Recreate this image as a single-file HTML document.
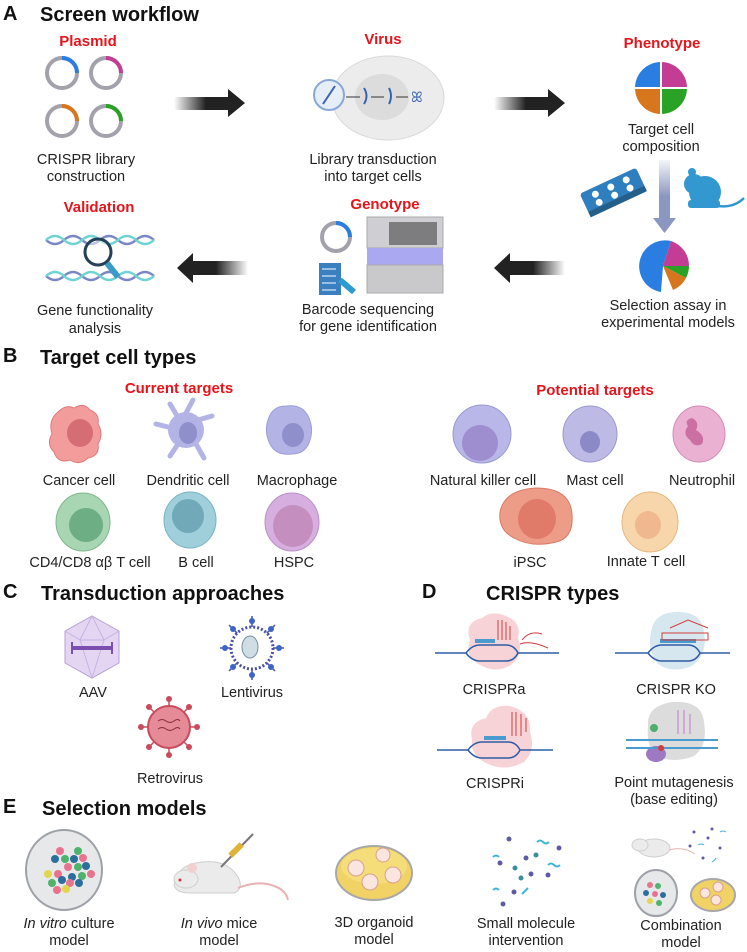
<!DOCTYPE html>
<html><head><meta charset="utf-8"><style>
html,body{margin:0;padding:0;background:#fff}
svg{display:block}
text{font-family:"Liberation Sans",sans-serif}
.h{font-weight:bold;font-size:20px;fill:#111}
.r{font-weight:bold;font-size:15px;fill:#e8141b;text-anchor:middle}
.t{font-size:14.5px;fill:#222;text-anchor:middle}
</style></head><body>
<svg width="747" height="952" viewBox="0 0 747 952" xmlns="http://www.w3.org/2000/svg">
<defs>
<linearGradient id="ar" x1="0" x2="1"><stop offset="0" stop-color="#222" stop-opacity="0"/><stop offset="0.45" stop-color="#222"/></linearGradient>
<linearGradient id="al" x1="1" x2="0"><stop offset="0" stop-color="#222" stop-opacity="0"/><stop offset="0.45" stop-color="#222"/></linearGradient>
<linearGradient id="ad" x1="0" y1="0" x2="0" y2="1"><stop offset="0" stop-color="#8a97c0" stop-opacity="0.1"/><stop offset="0.5" stop-color="#8a97c0"/></linearGradient>
</defs>
<!-- A -->
<text x="3" y="20" class="h">A</text><text x="40" y="21" class="h">Screen workflow</text>
<text x="88" y="46" class="r">Plasmid</text>
<g fill="none" stroke-width="4">
<circle cx="62" cy="73" r="15" stroke="#a3a1ab"/><path d="M62 58 A15 15 0 0 1 77 73" stroke="#2a7de1"/>
<circle cx="106" cy="73" r="15" stroke="#a3a1ab"/><path d="M106 58 A15 15 0 0 1 121 73" stroke="#c33d95"/>
<circle cx="62" cy="121" r="15" stroke="#a3a1ab"/><path d="M62 106 A15 15 0 0 1 77 121" stroke="#d8761d"/>
<circle cx="106" cy="121" r="15" stroke="#a3a1ab"/><path d="M106 106 A15 15 0 0 1 121 121" stroke="#2aa225"/>
</g>
<text x="86" y="164" class="t">CRISPR library</text><text x="86" y="181" class="t">construction</text>
<path d="M174 97 H228 V89 L245 103 L228 117 V110 H174Z" fill="url(#ar)"/>
<text x="383" y="44" class="r">Virus</text>
<ellipse cx="388" cy="98" rx="56" ry="42" fill="#ececec" stroke="#d9d9d9"/>
<ellipse cx="382" cy="97" rx="27" ry="23" fill="#dcdcdc"/>
<circle cx="329" cy="95" r="15" fill="#e6eef8" stroke="#8aa8d6" stroke-width="2"/>
<path d="M323 104 Q329 95 335 86 M364 104 q5 -8 0 -16 M389 104 q4 -8 0 -16" stroke="#3b64b0" stroke-width="2" fill="none"/>
<path d="M346 97 H360 M371 97 H384 M396 97 H408" stroke="#333"/>
<text x="411" y="102" font-size="14" fill="#3b64b0">ꕤ</text>
<text x="373" y="164" class="t">Library transduction</text><text x="373" y="181" class="t">into target cells</text>
<path d="M494 97 H548 V89 L565 103 L548 117 V110 H494Z" fill="url(#ar)"/>
<text x="662" y="48" class="r">Phenotype</text>
<g transform="translate(661,88)">
<path d="M0 0 V-26 A26 26 0 0 0 -26 0Z" fill="#2a7de1"/><path d="M0 0 V-26 A26 26 0 0 1 26 0Z" fill="#c33d95"/>
<path d="M0 0 H-26 A26 26 0 0 0 0 26Z" fill="#d8761d"/><path d="M0 0 H26 A26 26 0 0 1 0 26Z" fill="#2aa225"/>
<path d="M-26 0H26M0-26V26" stroke="#fff" stroke-width="2"/></g>
<text x="661" y="134" class="t">Target cell</text><text x="661" y="151" class="t">composition</text>
<path d="M659 160 H670 V218 H676 L664.5 233 L653 218 H659Z" fill="url(#ad)"/>
<g transform="rotate(-25 612 192)"><rect x="582" y="180" width="62" height="22" rx="3" fill="#2f7fbf"/><rect x="582" y="200" width="62" height="6" fill="#245f8a"/>
<g fill="#fff"><circle cx="596" cy="187" r="3.5"/><circle cx="613" cy="187" r="3.5"/><circle cx="630" cy="187" r="3.5"/><circle cx="596" cy="196" r="3.5"/><circle cx="613" cy="196" r="3.5"/><circle cx="630" cy="196" r="3.5"/></g></g>
<g fill="#3398d0"><ellipse cx="705" cy="192" rx="16" ry="16"/><ellipse cx="694" cy="184" rx="10" ry="10"/><circle cx="692" cy="172" r="4"/><rect x="688" y="200" width="32" height="8" rx="3"/></g>
<path d="M718 206 q16 2 26 -8" stroke="#3398d0" stroke-width="2.5" fill="none"/>
<g transform="translate(663,266)">
<path d="M0 0 L8 -25 A26 26 0 1 0 -2 26Z" fill="#2a7de1"/>
<path d="M0 0 L8 -25 A26 26 0 0 1 26 0Z" fill="#c33d95"/>
<path d="M0 0 H26 A26 26 0 0 1 23 12Z" fill="#2aa225"/>
<path d="M0 0 L23 12 A26 26 0 0 1 10 24Z" fill="#d8761d"/></g>
<text x="668" y="310" class="t">Selection assay in</text><text x="668" y="327" class="t">experimental models</text>
<path d="M565 261 H510 V253 L494 268 L510 283 V275 H565Z" fill="url(#al)"/>
<text x="385" y="209" class="r">Genotype</text>
<circle cx="336" cy="237" r="14" fill="none" stroke="#a3a1ab" stroke-width="4"/><path d="M336 223 A14 14 0 0 1 350 237" stroke="#2a7de1" stroke-width="4" fill="none"/>
<rect x="367" y="217" width="76" height="31" fill="#cfcfd3" stroke="#aaa"/><rect x="389" y="222" width="48" height="23" fill="#7d7d80"/>
<rect x="367" y="248" width="76" height="17" fill="#a9a8f0"/><rect x="367" y="265" width="76" height="28" fill="#c9c9cc" stroke="#aaa"/>
<rect x="319" y="263" width="22" height="32" fill="#3a7fc0"/><g stroke="#fff"><path d="M322 269h14M322 276h14M322 283h14M322 290h14"/></g>
<path d="M340 280 l14 12" stroke="#2d9bd0" stroke-width="6"/>
<text x="368" y="314" class="t">Barcode sequencing</text><text x="368" y="331" class="t">for gene identification</text>
<path d="M248 261 H193 V253 L177 268 L193 283 V275 H248Z" fill="url(#al)"/>
<text x="99" y="212" class="r">Validation</text>
<g fill="none" stroke-width="2.5">
<path d="M46 240 q9 8 18 0 t18 0 t18 0 t18 0 t18 0 t18 0" stroke="#7a86c6"/><path d="M46 240 q9 -8 18 0 t18 0 t18 0 t18 0 t18 0 t18 0" stroke="#6fd3d1"/>
<path d="M46 276 q9 8 18 0 t18 0 t18 0 t18 0 t18 0 t18 0" stroke="#7a86c6"/><path d="M46 276 q9 -8 18 0 t18 0 t18 0 t18 0 t18 0 t18 0" stroke="#6fd3d1"/>
<circle cx="98" cy="252" r="13" stroke="#23425a" stroke-width="3" fill="#fff" fill-opacity="0.5"/>
<path d="M107 263 l11 14" stroke="#3a9bc7" stroke-width="6"/></g>
<text x="95" y="315" class="t">Gene functionality</text><text x="95" y="333" class="t">analysis</text>

<!-- B -->
<text x="3" y="362" class="h">B</text><text x="40" y="364" class="h">Target cell types</text>
<text x="179" y="393" class="r">Current targets</text>
<text x="595" y="395" class="r">Potential targets</text>
<path d="M58 412 q8 -8 16 -4 q10 -6 16 2 q10 4 8 14 q6 10 0 20 q2 12 -10 14 q-8 8 -18 2 q-12 4 -16 -8 q-8 -8 -2 -18 q-4 -14 6 -22z" fill="#f29c9c" stroke="#e07a7a"/>
<ellipse cx="80" cy="433" rx="13" ry="14" fill="#d56d75"/>
<g stroke="#b3b3e6" stroke-width="5" stroke-linecap="round" fill="none"><path d="M186 413 L193 400 M198 420 L212 416 M196 444 L204 458 M178 444 L170 456 M172 428 L156 424 M176 414 L170 404"/></g>
<circle cx="186" cy="430" r="18" fill="#b3b3e6"/><ellipse cx="188" cy="433" rx="9" ry="11" fill="#8f8fcc"/>
<path d="M268 420 q4 -14 18 -14 q16 -2 22 10 q6 12 2 24 q-4 14 -18 14 q-16 2 -22 -10 q-6 -12 -2 -24z" fill="#b3b3e6" stroke="#9e9ed8"/>
<ellipse cx="293" cy="435" rx="11" ry="12" fill="#8f8fcc"/>
<text x="79" y="485" class="t">Cancer cell</text><text x="188" y="485" class="t">Dendritic cell</text><text x="297" y="485" class="t">Macrophage</text>
<ellipse cx="83" cy="522" rx="27" ry="29" fill="#a8d5b2" stroke="#7fb88c"/><ellipse cx="86" cy="525" rx="17" ry="17" fill="#6eae84"/>
<ellipse cx="190" cy="520" rx="26" ry="28" fill="#9fcfdb" stroke="#7ab3c4"/><ellipse cx="188" cy="516" rx="16" ry="17" fill="#72a9b8"/>
<ellipse cx="292" cy="522" rx="27" ry="29" fill="#d7aee0" stroke="#b98fc6"/><ellipse cx="293" cy="526" rx="20" ry="21" fill="#c48fbf"/>
<text x="90" y="567" class="t">CD4/CD8 αβ T cell</text><text x="196" y="567" class="t">B cell</text><text x="294" y="567" class="t">HSPC</text>
<ellipse cx="482" cy="434" rx="29" ry="29" fill="#b9b7e8" stroke="#9a98d3"/><ellipse cx="480" cy="443" rx="18" ry="18" fill="#9e8dcf"/>
<ellipse cx="590" cy="434" rx="27" ry="28" fill="#bdbbe6" stroke="#9a98d3"/><ellipse cx="590" cy="442" rx="10" ry="11" fill="#8b89c6"/>
<ellipse cx="699" cy="434" rx="26" ry="28" fill="#eab1d2" stroke="#d18db6"/><path d="M692 418 q8 4 4 12 q10 6 6 14 q-8 4 -12 -4 q-8 -6 -2 -14 q-4 -6 4 -8z" fill="#cc6fa2"/>
<text x="483" y="485" class="t">Natural killer cell</text><text x="595" y="485" class="t">Mast cell</text><text x="702" y="485" class="t">Neutrophil</text>
<path d="M500 512 q4 -22 36 -24 q34 0 36 26 q2 24 -16 28 q-24 6 -42 -4 q-16 -8 -14 -26z" fill="#ec9c87" stroke="#d87a66"/>
<ellipse cx="537" cy="519" rx="19" ry="20" fill="#e07b69"/>
<ellipse cx="650" cy="522" rx="28" ry="30" fill="#f8d6ac" stroke="#e7b57e"/><ellipse cx="648" cy="525" rx="13" ry="14" fill="#efb88e"/>
<text x="530" y="567" class="t">iPSC</text><text x="646" y="566" class="t">Innate T cell</text>

<!-- C -->
<text x="3" y="598" class="h">C</text><text x="41" y="600" class="h">Transduction approaches</text>
<polygon points="92,616 119,631 119,663 92,678 65,663 65,631" fill="#e4d6f2" stroke="#b79fd6"/>
<path d="M92 616 L80 640 L104 640Z M65 631 L80 640 L92 678 L104 640 L119 631" fill="none" stroke="#c6b2e2"/>
<path d="M72 648 H112" stroke="#7b4fb0" stroke-width="4"/><path d="M72 642V654M112 642V654" stroke="#7b4fb0" stroke-width="2"/>
<text x="93" y="697" class="t">AAV</text>
<g stroke="#4a4fa8" stroke-width="1.5"><path d="M252 616V680M220 648H284M229 625L275 671M275 625L229 671"/></g>
<circle cx="252" cy="648" r="21" fill="#fff" stroke="#4a4fa8" stroke-width="3" stroke-dasharray="2 2"/>
<ellipse cx="250" cy="647" rx="8" ry="11" fill="#cfdde5" stroke="#7a8f9c"/>
<g fill="#3b66c4"><circle cx="252" cy="621" r="3"/><circle cx="252" cy="675" r="3"/><circle cx="225" cy="648" r="3"/><circle cx="279" cy="648" r="3"/><circle cx="233" cy="629" r="3"/><circle cx="271" cy="667" r="3"/><circle cx="271" cy="629" r="3"/><circle cx="233" cy="667" r="3"/></g>
<text x="252" y="697" class="t">Lentivirus</text>
<g stroke="#c94a5a" stroke-width="1.5"><path d="M169 699V755M141 727H197M149 707L189 747M189 707L149 747"/></g>
<g fill="#c94a5a"><circle cx="169" cy="699" r="3"/><circle cx="169" cy="755" r="3"/><circle cx="141" cy="727" r="3"/><circle cx="197" cy="727" r="3"/><circle cx="149" cy="707" r="3"/><circle cx="189" cy="747" r="3"/><circle cx="189" cy="707" r="3"/><circle cx="149" cy="747" r="3"/></g>
<circle cx="169" cy="727" r="21" fill="#e58a97" stroke="#c94a5a" stroke-width="2"/>
<path d="M158 721 q4 -3 8 0 t8 0 t6 0 M158 729 q4 -3 8 0 t8 0 t6 0" stroke="#8c2c3c" fill="none"/>
<text x="170" y="783" class="t">Retrovirus</text>

<!-- D -->
<text x="422" y="598" class="h">D</text><text x="486" y="600" class="h">CRISPR types</text>
<g>
<path d="M470 640 q-6 -18 12 -22 q10 -8 24 -2 q16 6 12 22 q6 16 -6 26 q-14 10 -30 2 q-18 -8 -12 -26z" fill="#f7d3d8"/>
<path d="M435 653 H466 q6 -8 14 -8 H506 q8 0 12 8 H559 M466 653 q6 8 14 8 H506 q8 0 12 -8" stroke="#2f5da5" fill="none" stroke-width="1.5"/>
<path d="M475 641 H495" stroke="#4a9bd0" stroke-width="4"/>
<path d="M498 620 v20 M502 620 v20 M506 622 v18 M510 626 v14" stroke="#d23c3c"/><path d="M522 640 q8 -10 20 -6 M520 644 q10 -4 28 4" stroke="#d23c3c" fill="none"/>
</g>
<text x="494" y="694" class="t">CRISPRa</text>
<g>
<path d="M652 628 q4 -16 26 -16 q24 0 26 20 q4 22 -12 34 q-20 8 -34 -2 q-12 -14 -6 -36z" fill="#d6e7f0"/>
<path d="M615 653 H648 q6 -8 14 -8 H688 q8 0 12 8 H730 M648 653 q6 8 14 8 H688 q8 0 12 -8" stroke="#2f5da5" fill="none" stroke-width="1.5"/>
<path d="M660 641 H696" stroke="#4a9bd0" stroke-width="4"/>
<path d="M662 633 H708 V640 H662Z" fill="none" stroke="#d23c3c"/><path d="M670 628 l18 -8 l20 8" stroke="#d23c3c" fill="none"/>
</g>
<text x="676" y="694" class="t">CRISPR KO</text>
<g>
<path d="M472 740 q-4 -18 14 -22 q6 -14 24 -12 q22 6 20 26 q6 18 -6 30 q-18 10 -36 2 q-18 -8 -16 -24z" fill="#f7d3d8"/>
<path d="M437 750 H468 q6 -8 14 -8 H508 q8 0 12 8 H553 M468 750 q6 8 14 8 H508 q8 0 12 -8" stroke="#2f5da5" fill="none" stroke-width="1.5"/>
<path d="M484 738 H506" stroke="#4a9bd0" stroke-width="4"/>
<path d="M512 712 v24 M516 712 v24 M521 714 v22 M526 718 v14" stroke="#d23c3c"/>
</g>
<text x="495" y="788" class="t">CRISPRi</text>
<g>
<path d="M648 726 q-2 -20 24 -24 q30 -2 32 20 q4 24 -10 34 q-20 8 -38 0 q-10 -10 -8 -30z" fill="#dcdcdc"/>
<ellipse cx="656" cy="754" rx="10" ry="8" fill="#9c79c2"/><circle cx="654" cy="728" r="4" fill="#4caf6a"/>
<path d="M626 740 H718 M626 748 H718" stroke="#4a9bd0" stroke-width="2"/>
<path d="M678 710 v24 M684 710 v24 M690 714 v20" stroke="#c07ad0"/><circle cx="661" cy="748" r="3" fill="#d23c3c"/>
</g>
<text x="674" y="787" class="t">Point mutagenesis</text><text x="674" y="804" class="t">(base editing)</text>

<!-- E -->
<text x="3" y="813" class="h">E</text><text x="42" y="815" class="h">Selection models</text>
<ellipse cx="64" cy="870" rx="38" ry="40" fill="#e7e8ea" stroke="#9ea1a8" stroke-width="2"/>
<g>
<circle cx="60" cy="851" r="4" fill="#e8738f"/><circle cx="78" cy="851" r="4" fill="#4fb36b"/><circle cx="83" cy="858" r="4" fill="#e8738f"/>
<circle cx="55" cy="859" r="4" fill="#2d6f9c"/><circle cx="65" cy="859" r="4" fill="#4fb36b"/><circle cx="74" cy="859" r="4" fill="#2d6f9c"/><circle cx="86" cy="866" r="4" fill="#2d6f9c"/>
<circle cx="48" cy="874" r="4" fill="#e3d64f"/><circle cx="58" cy="874" r="4" fill="#e8738f"/><circle cx="68" cy="867" r="4" fill="#e8738f"/><circle cx="78" cy="867" r="4" fill="#4fb36b"/><circle cx="91" cy="874" r="4" fill="#e8738f"/>
<circle cx="52" cy="883" r="4" fill="#4fb36b"/><circle cx="62" cy="880" r="4" fill="#2d6f9c"/><circle cx="72" cy="877" r="4" fill="#2d6f9c"/><circle cx="82" cy="876" r="4" fill="#4fb36b"/><circle cx="70" cy="883" r="4" fill="#e8738f"/><circle cx="79" cy="883" r="4" fill="#2d6f9c"/>
<circle cx="57" cy="890" r="4" fill="#e8738f"/><circle cx="66" cy="889" r="4" fill="#e3d64f"/>
</g>
<path d="M174 885 q2 -18 22 -22 q30 -6 42 14 q6 12 -4 16 H190 q-14 0 -16 -8z" fill="#ebebeb" stroke="#cfcfcf"/>
<ellipse cx="186" cy="879" rx="12" ry="9" fill="#ebebeb" stroke="#cfcfcf"/><circle cx="192" cy="868" r="5" fill="#f2d0d0"/><circle cx="180" cy="880" r="1.5" fill="#c33"/>
<path d="M238 888 q20 -8 36 -2 q12 4 14 14" stroke="#e9b1b1" stroke-width="2" fill="none"/>
<path d="M221 867 L253 834" stroke="#777" stroke-width="2"/><rect x="233" y="842" width="6" height="16" fill="#e0b23a" transform="rotate(45 236 850)"/>
<ellipse cx="374" cy="873" rx="38" ry="27" fill="#f0d265" stroke="#a8a8a8" stroke-width="2"/>
<ellipse cx="374" cy="866" rx="33" ry="18" fill="#f5dd7a"/>
<g fill="#fbe6df" stroke="#d9a08d"><circle cx="356" cy="868" r="8"/><circle cx="383" cy="855" r="7"/><circle cx="393" cy="875" r="8"/><circle cx="370" cy="882" r="8"/></g>
<g fill="#5e5aa8"><circle cx="509" cy="839" r="2.5"/><circle cx="559" cy="848" r="2.5"/><circle cx="500" cy="863" r="2.5"/><circle cx="526" cy="858" r="2.5"/><circle cx="548" cy="875" r="2.5"/><circle cx="531" cy="874" r="2.5"/><circle cx="514" cy="892" r="2.5"/><circle cx="503" cy="904" r="2.5"/></g>
<g fill="#3a8f9c"><circle cx="515" cy="868" r="2.5"/><circle cx="536" cy="855" r="2.5"/><circle cx="521" cy="878" r="2.5"/></g>
<g stroke="#3fb4dc" stroke-width="2" fill="none"><path d="M537 842 q3 -3 6 0 t6 0"/><path d="M493 857 q3 -3 6 0"/><path d="M548 865 q3 -3 6 0 t6 0"/><path d="M493 890 q3 -3 6 0"/><path d="M522 894 q3 -3 6 -6"/></g>
<ellipse cx="654" cy="848" rx="16" ry="9" fill="#ebebeb" stroke="#cfcfcf"/><ellipse cx="640" cy="845" rx="8" ry="6" fill="#ebebeb" stroke="#cfcfcf"/>
<path d="M669 850 q14 -4 26 4" stroke="#e9b1b1" fill="none"/>
<g fill="#5e5aa8"><circle cx="694" cy="832" r="1.5"/><circle cx="708" cy="838" r="1.5"/><circle cx="720" cy="848" r="1.5"/><circle cx="703" cy="858" r="1.5"/><circle cx="712" cy="829" r="1.5"/><circle cx="690" cy="846" r="1.5"/></g>
<g stroke="#3fb4dc" fill="none"><path d="M720 832 q3 -2 6 0"/><path d="M698 845 q3 -2 6 0"/><path d="M712 862 q3 -2 4 -4"/></g>
<ellipse cx="656" cy="893" rx="21" ry="23" fill="#e7e8ea" stroke="#9ea1a8" stroke-width="2"/>
<g><circle cx="650" cy="885" r="3" fill="#e8738f"/><circle cx="658" cy="886" r="3" fill="#4fb36b"/><circle cx="646" cy="893" r="3" fill="#2d6f9c"/><circle cx="655" cy="894" r="3" fill="#e8738f"/><circle cx="663" cy="895" r="3" fill="#2d6f9c"/><circle cx="650" cy="901" r="3" fill="#e3d64f"/><circle cx="659" cy="903" r="3" fill="#4fb36b"/></g>
<ellipse cx="713" cy="895" rx="22" ry="16" fill="#f0d265" stroke="#a8a8a8" stroke-width="2"/>
<g fill="#fbe6df" stroke="#d9a08d"><circle cx="705" cy="893" r="5"/><circle cx="718" cy="887" r="5"/><circle cx="716" cy="900" r="5"/></g>
<text x="69" y="928" class="t"><tspan font-style="italic">In vitro</tspan> culture</text><text x="69" y="945" class="t">model</text>
<text x="219" y="928" class="t"><tspan font-style="italic">In vivo</tspan> mice</text><text x="219" y="945" class="t">model</text>
<text x="374" y="927" class="t">3D organoid</text><text x="374" y="944" class="t">model</text>
<text x="526" y="928" class="t">Small molecule</text><text x="526" y="945" class="t">intervention</text>
<text x="681" y="930" class="t">Combination</text><text x="681" y="947" class="t">model</text>
</svg>
</body></html>
